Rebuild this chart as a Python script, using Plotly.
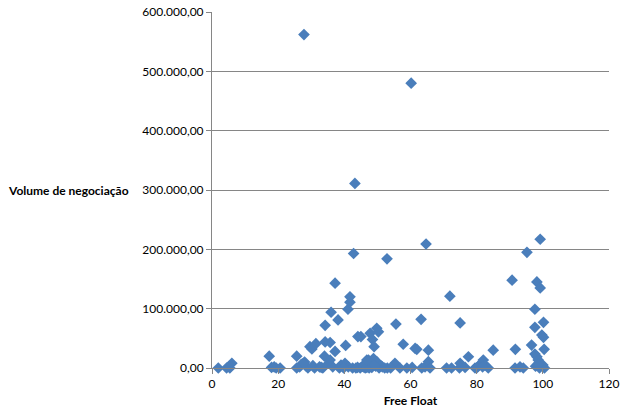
import plotly.graph_objects as go

free_float = [
    1.9, 4.4, 5.4, 6.0, 17.3, 18.0, 18.8, 19.4, 20.6, 25.6,
    25.6, 26.5, 27.0, 27.8, 28.0, 28.5, 29.0, 29.6, 30.2, 30.5,
    31.4, 31.0, 32.5, 33.5, 34.0, 34.2, 34.2, 35.3, 35.7, 36.0,
    36.5, 37.2, 37.2, 38.1, 38.5, 39.0, 40.2, 40.4, 41.1, 41.2,
    41.7, 41.7, 42.5, 42.8, 43.2, 43.5, 44.1, 44.0, 45.0, 45.5,
    46.3, 47.0, 47.3, 47.8, 48.3, 48.5, 48.8, 49.0, 49.5, 49.8,
    49.8, 50.3, 50.5, 51.5, 52.9, 53.0, 55.3, 55.6, 56.8, 57.8,
    58.9, 60.2, 61.4, 61.9, 63.2, 63.4, 64.4, 64.7, 65.4, 65.4,
    65.9, 70.9, 71.9, 72.4, 75.0, 75.0, 74.8, 76.5, 77.5, 79.5,
    80.5, 81.5, 82.0, 82.5, 83.5, 85.0, 90.7, 91.6, 91.7, 93.1,
    94.1, 95.2, 96.6, 97.6, 97.6, 97.6, 97.8, 98.2, 98.2, 98.6,
    99.0, 99.2, 99.2, 99.7, 100.2, 100.2, 100.4, 100.0, 100.5, 98.5,
    44.8, 45.8, 46.8, 47.5, 51.0, 52.2, 54.0, 27.6, 46.8, 35.7,
    33.0, 39.8, 49.0, 60.5, 80.0, 81.8,
]
volume = [
    0, 0, 0, 8000, 20000, 1000, 2000, 0, 0, 20000,
    0, 2000, 6000, 562000, 10000, 3000, 0, 36000, 32000, 4000,
    41000, 0, 2000, 0, 20000, 44000, 72000, 8000, 43000, 94000,
    2000, 28000, 143000, 81000, 0, 5000, 8000, 38000, 99000, 2000,
    111000, 120000, 0, 193000, 311000, 0, 53000, 1000, 53000, 3000,
    0, 7000, 13500, 58500, 1000, 48000, 16000, 36000, 3000, 67000,
    10600, 61000, 0, 2000, 184000, 0, 8000, 74000, 0, 40000,
    0, 480000, 33000, 31500, 82000, 0, 2000, 209000, 30000, 10600,
    0, 0, 121000, 0, 76000, 8000, 0, 1000, 19000, 0,
    3000, 8000, 13500, 5000, 0, 30000, 148000, 0, 31500, 2000,
    0, 195000, 38700, 99000, 68600, 23600, 3000, 145000, 19000, 13500,
    0, 135000, 217000, 55600, 51700, 77000, 31500, 5000, 0, 6000,
    0, 2000, 1000, 0, 4000, 0, 0, 8000, 13500, 13500,
    1000, 0, 5000, 1000, 0, 2000,
]

y_tickvals = [0, 100000, 200000, 300000, 400000, 500000, 600000]
y_ticktext = ["0,00", "100.000,00", "200.000,00", "300.000,00",
              "400.000,00", "500.000,00", "600.000,00"]
x_tickvals = [0, 20, 40, 60, 80, 100, 120]

font_family = "Lato, Carlito, 'Liberation Sans', sans-serif"

fig = go.Figure(
    go.Scatter(
        x=free_float, y=volume, mode="markers",
        marker=dict(symbol="diamond", size=9, color="#4A7EBB",
                    line=dict(width=0)),
        cliponaxis=False,
        showlegend=False,
    )
)

fig.update_layout(
    width=634, height=416,
    margin=dict(l=212, r=25, t=12, b=48),
    plot_bgcolor="white", paper_bgcolor="white",
    font=dict(family=font_family, size=12, color="#000000"),
    xaxis=dict(
        range=[0, 120], tickvals=x_tickvals, showgrid=False, zeroline=False,
        showline=True, linecolor="#868686", linewidth=1,
        ticks="outside", ticklen=5, tickcolor="#868686",
        tickfont=dict(size=12), automargin=False,
        title=dict(text="<b>Free Float</b>", font=dict(size=12), standoff=6),
    ),
    yaxis=dict(
        range=[0, 600000], tickvals=y_tickvals, ticktext=y_ticktext,
        showgrid=True, gridcolor="#868686", gridwidth=1, zeroline=False,
        showline=True, linecolor="#868686", linewidth=1,
        ticks="outside", ticklen=5, tickcolor="#868686",
        tickfont=dict(size=12), automargin=False,
    ),
    annotations=[
        dict(text="<b>Volume de negociação</b>", xref="paper", yref="paper",
             x=-0.52, y=0.5, xanchor="left", yanchor="middle",
             showarrow=False, font=dict(size=12)),
    ],
)

fig.write_html("out.html")
